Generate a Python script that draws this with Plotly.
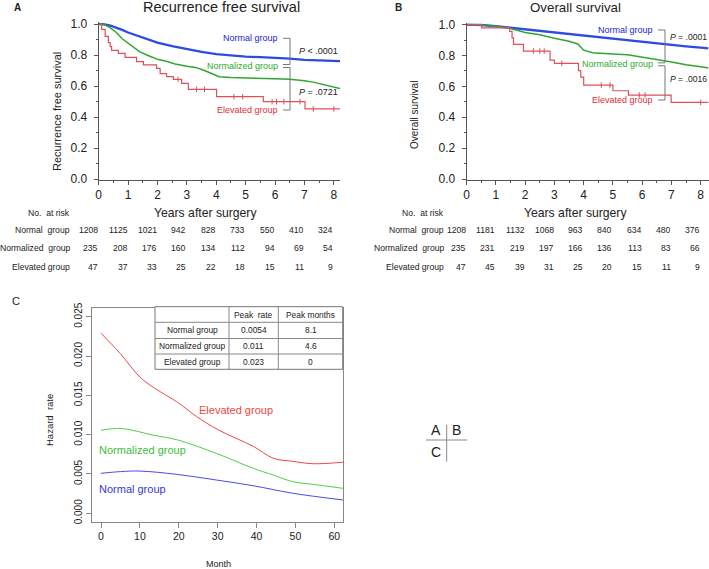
import plotly.graph_objects as go

W, H = 709, 569
FONT = "Liberation Sans, Arial, sans-serif"
NARROW = "Liberation Sans, Arial, sans-serif"

# ---------------- data ----------------
# Panel A: recurrence free survival
a_normal_t = [0, 0.2, 0.4, 0.6, 0.8, 1.0, 1.25, 1.5, 1.75, 2.0, 2.5, 3.0, 3.5, 4.0, 4.5, 5.0, 5.5, 6.0, 6.5, 7.0, 7.5, 8.0, 8.21]
a_normal_s = [1.0, 0.998, 0.99, 0.978, 0.962, 0.945, 0.928, 0.912, 0.896, 0.88, 0.857, 0.837, 0.82, 0.806, 0.796, 0.789, 0.786, 0.783, 0.776, 0.768, 0.763, 0.761, 0.760]
a_normd_t = [0, 0.2, 0.4, 0.6, 0.8, 1.0, 1.2, 1.4, 1.7, 2.0, 2.3, 2.6, 3.0, 3.3, 3.6, 3.9, 4.1, 4.5, 5.0, 5.5, 6.0, 6.5, 6.8, 7.0, 7.3, 7.6, 7.9, 8.21]
a_normd_s = [1.0, 0.995, 0.975, 0.945, 0.905, 0.875, 0.845, 0.82, 0.795, 0.772, 0.76, 0.742, 0.727, 0.72, 0.70, 0.675, 0.66, 0.655, 0.653, 0.652, 0.646, 0.643, 0.64, 0.634, 0.625, 0.612, 0.598, 0.583]
a_elev_t = [0, 0.10, 0.22, 0.33, 0.39, 0.44, 0.67, 0.90, 1.29, 1.52, 1.97, 2.09, 2.31, 2.54, 2.82, 3.05, 4.01, 5.60, 7.02, 8.21]
a_elev_s = [1.0, 0.965, 0.92, 0.88, 0.854, 0.83, 0.81, 0.785, 0.757, 0.736, 0.714, 0.68, 0.66, 0.643, 0.617, 0.578, 0.531, 0.499, 0.452, 0.452]
a_elev_censor = [2.7, 3.33, 3.6, 4.6, 4.9, 5.9, 6.05, 6.3, 6.85, 7.3, 8.0]

# Panel B: overall survival
b_normal_t = [0, 0.5, 1.0, 1.5, 2.0, 2.5, 3.0, 3.5, 4.0, 4.5, 5.0, 5.5, 6.0, 6.5, 7.0, 7.5, 8.0, 8.27]
b_normal_s = [1.0, 0.998, 0.99, 0.98, 0.97, 0.96, 0.95, 0.94, 0.929, 0.918, 0.907, 0.896, 0.886, 0.877, 0.868, 0.86, 0.851, 0.846]
b_normd_t = [0, 0.5, 1.0, 1.5, 2.0, 2.5, 3.0, 3.5, 3.8, 4.0, 4.3, 4.7, 5.0, 5.5, 6.0, 6.5, 6.8, 7.0, 7.5, 8.0, 8.27]
b_normd_s = [1.0, 0.998, 0.99, 0.976, 0.95, 0.935, 0.912, 0.893, 0.875, 0.835, 0.818, 0.812, 0.81, 0.805, 0.79, 0.778, 0.765, 0.758, 0.74, 0.728, 0.72]
b_elev_t = [0, 0.51, 1.47, 1.55, 1.60, 1.94, 2.85, 3.0, 3.82, 3.9, 4.0, 5.0, 5.53, 6.99, 8.27]
b_elev_s = [1.0, 0.979, 0.957, 0.915, 0.872, 0.829, 0.771, 0.75, 0.702, 0.66, 0.609, 0.572, 0.544, 0.497, 0.497]
b_elev_censor = [2.28, 2.5, 2.65, 3.25, 4.6, 4.9, 5.9, 6.1, 8.0]

# numbers at risk
risk_years = [0, 1, 2, 3, 4, 5, 6, 7, 8]
group_names = ["Normal group", "Normalized group", "Elevated group"]
a_risk = [[1208, 1125, 1021, 942, 828, 733, 550, 410, 324],
          [235, 208, 176, 160, 134, 112, 94, 69, 54],
          [47, 37, 33, 25, 22, 18, 15, 11, 9]]
b_risk = [[1208, 1181, 1132, 1068, 963, 840, 634, 480, 376],
          [235, 231, 219, 197, 166, 136, 113, 83, 66],
          [47, 45, 39, 31, 25, 20, 15, 11, 9]]

# Panel C: hazard rate
c_elev_m = [0, 5, 10.5, 20, 24.6, 30.2, 39.2, 44.3, 49.4, 54.6, 62.3]
c_elev_h = [0.0229, 0.0203, 0.0171, 0.0140, 0.0123, 0.0106, 0.0085, 0.0070, 0.0066, 0.0063, 0.0065]
c_normd_m = [0, 5.3, 13.4, 19.9, 29.7, 39.2, 44.3, 49.4, 54.6, 62.3]
c_normd_h = [0.01057, 0.01078, 0.00994, 0.0093, 0.00761, 0.00571, 0.00486, 0.00401, 0.00368, 0.00317]
c_norm_m = [0, 5, 10, 19.5, 29.7, 39.2, 49.4, 62.3]
c_norm_h = [0.00508, 0.0053, 0.00537, 0.00495, 0.00423, 0.0035, 0.00254, 0.00169]

table_header = ["", "Peak  rate", "Peak months"]
peak_rate = ["0.0054", "0.011", "0.023"]
peak_month = ["8.1", "4.6", "0"]

# ---------------- helpers ----------------
def X(px):
    return px / W

def Y(py):
    return 1 - py / H

def step_at(ts, ss, t):
    v = ss[0]
    for ti, si in zip(ts, ss):
        if ti <= t:
            v = si
    return v

BLUE_L, GREEN_L, RED_L = "rgb(45,75,225)", "rgb(50,165,50)", "rgb(222,80,90)"
BLUE_T, GREEN_T, RED_T = "rgb(35,35,215)", "rgb(45,170,45)", "rgb(228,45,55)"
C_RED, C_GREEN, C_BLUE = "rgb(240,70,70)", "rgb(80,205,80)", "rgb(75,75,225)"

fig = go.Figure()

# Panel A curves
fig.add_trace(go.Scatter(x=a_normal_t, y=a_normal_s, mode="lines", line=dict(color=BLUE_L, width=2.3), xaxis="x", yaxis="y"))
fig.add_trace(go.Scatter(x=a_normd_t, y=a_normd_s, mode="lines", line=dict(color=GREEN_L, width=1.5), xaxis="x", yaxis="y"))
fig.add_trace(go.Scatter(x=a_elev_t, y=a_elev_s, mode="lines", line=dict(color=RED_L, width=1.2, shape="hv"), xaxis="x", yaxis="y"))
fig.add_trace(go.Scatter(x=a_elev_censor, y=[step_at(a_elev_t, a_elev_s, t) for t in a_elev_censor], mode="markers",
                         marker=dict(symbol="line-ns", size=4, line=dict(color=RED_L, width=1)), xaxis="x", yaxis="y"))
# Panel B curves
fig.add_trace(go.Scatter(x=b_normal_t, y=b_normal_s, mode="lines", line=dict(color=BLUE_L, width=2.3), xaxis="x2", yaxis="y2"))
fig.add_trace(go.Scatter(x=b_normd_t, y=b_normd_s, mode="lines", line=dict(color=GREEN_L, width=1.5), xaxis="x2", yaxis="y2"))
fig.add_trace(go.Scatter(x=b_elev_t, y=b_elev_s, mode="lines", line=dict(color=RED_L, width=1.2, shape="hv"), xaxis="x2", yaxis="y2"))
fig.add_trace(go.Scatter(x=b_elev_censor, y=[step_at(b_elev_t, b_elev_s, t) for t in b_elev_censor], mode="markers",
                         marker=dict(symbol="line-ns", size=4, line=dict(color=RED_L, width=1)), xaxis="x2", yaxis="y2"))
# Panel C curves
fig.add_trace(go.Scatter(x=c_elev_m, y=c_elev_h, mode="lines", line=dict(color=C_RED, width=1, shape="spline"), xaxis="x3", yaxis="y3"))
fig.add_trace(go.Scatter(x=c_normd_m, y=c_normd_h, mode="lines", line=dict(color=C_GREEN, width=1, shape="spline"), xaxis="x3", yaxis="y3"))
fig.add_trace(go.Scatter(x=c_norm_m, y=c_norm_h, mode="lines", line=dict(color=C_BLUE, width=1, shape="spline"), xaxis="x3", yaxis="y3"))

AX = "#555555"
km_x = dict(showgrid=False, zeroline=False, showline=True, linecolor=AX, linewidth=1, automargin=False,
            ticks="outside", ticklen=4, tickcolor=AX, dtick=1, tick0=0,
            minor=dict(ticks="outside", ticklen=2, dtick=0.5, tickcolor=AX),
            tickfont=dict(family=FONT, size=12, color="#222"))
km_y = dict(showgrid=False, zeroline=False, showline=True, linecolor=AX, linewidth=1, automargin=False,
            ticks="outside", ticklen=4, tickcolor=AX, dtick=0.2, tick0=0, tickformat=".1f",
            minor=dict(ticks="outside", ticklen=2, dtick=0.1, tickcolor=AX),
            tickfont=dict(family=FONT, size=12, color="#222"), range=[-0.006, 1.01])

fig.update_layout(
    width=W, height=H, margin=dict(l=0, r=0, t=0, b=0, autoexpand=False),
    paper_bgcolor="white", plot_bgcolor="white", showlegend=False,
    xaxis=dict(domain=[X(98.7), X(340)], range=[0, 8.21], anchor="y", **km_x),
    yaxis=dict(domain=[Y(179.93), Y(22.45)], anchor="x", ticklabelstandoff=4, **km_y),
    xaxis2=dict(domain=[X(466.7), X(708.5)], range=[0, 8.267], anchor="y2", **km_x),
    yaxis2=dict(domain=[Y(179.93), Y(23.16)], anchor="x2", ticklabelstandoff=4, **km_y),
    xaxis3=dict(domain=[X(91.7), X(343.3)], range=[-2.39, 62.3], anchor="y3", automargin=False,
                showgrid=False, zeroline=False, showline=True, mirror=True, linecolor="#888", linewidth=1,
                ticks="outside", ticklen=5, tickcolor="#888", dtick=10, tick0=0,
                tickfont=dict(family=FONT, size=10.5, color="#222")),
    yaxis3=dict(domain=[Y(521.7), Y(308.3)], range=[-0.00107, 0.02607], anchor="x3", automargin=False,
                showgrid=False, zeroline=False, showline=True, mirror=True, linecolor="#888", linewidth=1,
                ticks="outside", ticklen=5, tickcolor="#888", dtick=0.005, tick0=0, tickformat=".3f",
                tickangle=-90, tickfont=dict(family=FONT, size=10, color="#222")),
)

ann = []
shapes = []

def text(x, y, s, size=10, color="#222", family=FONT, xanchor="center", xref="paper", angle=0, bold=False):
    if bold:
        s = "<b>" + s + "</b>"
    ann.append(dict(x=x, y=y, xref=xref, yref="paper", text=s, showarrow=False,
                    font=dict(family=family, size=size, color=color),
                    xanchor=xanchor, yanchor="middle", textangle=angle))

def line(x0, y0, x1, y1, color="#777", width=1):
    shapes.append(dict(type="line", xref="paper", yref="paper", x0=X(x0), y0=Y(y0), x1=X(x1), y1=Y(y1),
                       line=dict(color=color, width=width)))

# Panel labels and titles
text(X(17.5), Y(7), "A", size=10, bold=True)
text(X(398), Y(7), "B", size=10, bold=True)
text(X(15.7), Y(300.7), "C", size=11)
text(X(221.5), Y(7.5), "Recurrence free survival", size=14.5)
text(X(575), Y(7.5), "Overall survival", size=13.3)
text(X(57), Y(112), "Recurrence free survival", size=11, angle=-90)
text(X(415), Y(115), "Overall survival", size=10, angle=-90)

LBL = 9
# Group labels + brackets + p-values, panel A
text(X(280), Y(37.7), "Normal group", size=LBL, color=BLUE_T, family=NARROW, xanchor="right")
text(X(280), Y(66), "Normalized group", size=LBL, color=GREEN_T, family=NARROW, xanchor="right")
text(X(280), Y(110), "Elevated group", size=LBL, color=RED_T, family=NARROW, xanchor="right")
for yy in (38.3, 64.5, 67.5, 110):
    line(283, yy, 290, yy)
line(290, 38.3, 290, 64.5)
line(290, 67.5, 290, 110)
text(X(296.5), Y(51), "<i>P</i> < .0001", size=LBL, family=NARROW, xanchor="left")
text(X(296.5), Y(91.7), "<i>P</i> = .0721", size=LBL, family=NARROW, xanchor="left")

# panel B
text(X(655), Y(30), "Normal group", size=LBL, color=BLUE_T, family=NARROW, xanchor="right")
text(X(655), Y(64.3), "Normalized group", size=LBL, color=GREEN_T, family=NARROW, xanchor="right")
text(X(655), Y(100), "Elevated group", size=LBL, color=RED_T, family=NARROW, xanchor="right")
for yy in (30, 62.8, 65.8, 100):
    line(658, yy, 665, yy)
line(665, 30, 665, 62.8)
line(665, 65.8, 665, 100)
text(X(667.5), Y(37), "<i>P</i> = .0001", size=8.6, family=NARROW, xanchor="left")
text(X(667.5), Y(79), "<i>P</i> = .0016", size=8.6, family=NARROW, xanchor="left")

# Risk tables
NUM = 8.6
row_py = [230, 248.3, 266.7]
for panel, risk, xref, lab_right, title_x in (("A", a_risk, "x", 71.7, 205.5), ("B", b_risk, "x2", 445.7, 575)):
    text(X(lab_right), Y(213.3), "No.  at risk", size=NUM, family=NARROW, xanchor="right")
    text(X(title_x), Y(213.3), "Years after surgery", size=12.2)
    for gi, name in enumerate(group_names):
        text(X(lab_right), Y(row_py[gi]), name.replace(" ", "  ") if gi < 2 else name, size=NUM, family=NARROW, xanchor="right")
        for yr, n in zip(risk_years, risk[gi]):
            ann.append(dict(x=yr, y=Y(row_py[gi]), xref=xref, yref="paper", text=str(n), showarrow=False,
                            font=dict(family=NARROW, size=NUM, color="#222"), xanchor="right", yanchor="middle",
                            xshift=1.5))

# Panel C labels
text(X(235.5), Y(410), "Elevated group", size=11, color=C_RED)
text(X(142.5), Y(450), "Normalized group", size=11, color="rgb(60,190,60)")
text(X(132.5), Y(489.3), "Normal group", size=11, color="rgb(55,55,215)")
text(X(218), Y(564), "Month", size=9)
text(X(49), Y(420), "Hazard  rate", size=9.5, angle=-90)

# Panel C table
tl, tr = 155, 342.7
col_x = [155, 229, 278.3, 342.7]
row_y = [306.7, 322.3, 338.5, 354.0, 369.3]
shapes.append(dict(type="rect", xref="paper", yref="paper", x0=X(tl), x1=X(tr), y0=Y(row_y[-1]), y1=Y(row_y[0]),
                   line=dict(color="#777", width=1), fillcolor="white", layer="above"))
for yy in row_y[1:-1]:
    line(tl, yy, tr, yy, color="#888")
for xx in col_x[1:-1]:
    line(xx, row_y[0], xx, row_y[-1], color="#888")
rows = [table_header] + [[g, r, m] for g, r, m in zip(group_names, peak_rate, peak_month)]
for ri, row in enumerate(rows):
    cy = (row_y[ri] + row_y[ri + 1]) / 2
    for ci, cell in enumerate(row):
        cx = (col_x[ci] + col_x[ci + 1]) / 2
        if cell:
            text(X(cx), Y(cy), cell, size=8.4)

# A|B / C key
text(X(435.7), Y(430), "A", size=14)
text(X(456.7), Y(430), "B", size=14)
text(X(435.7), Y(451.7), "C", size=14)
line(446.7, 425, 446.7, 461.7, color="#888")
line(426, 440, 467.3, 440, color="#888")

fig.update_layout(annotations=ann, shapes=shapes)
fig.write_html("out.html", config={"displayModeBar": False},
               post_script="document.body.style.margin='0';document.body.style.overflow='hidden';")
